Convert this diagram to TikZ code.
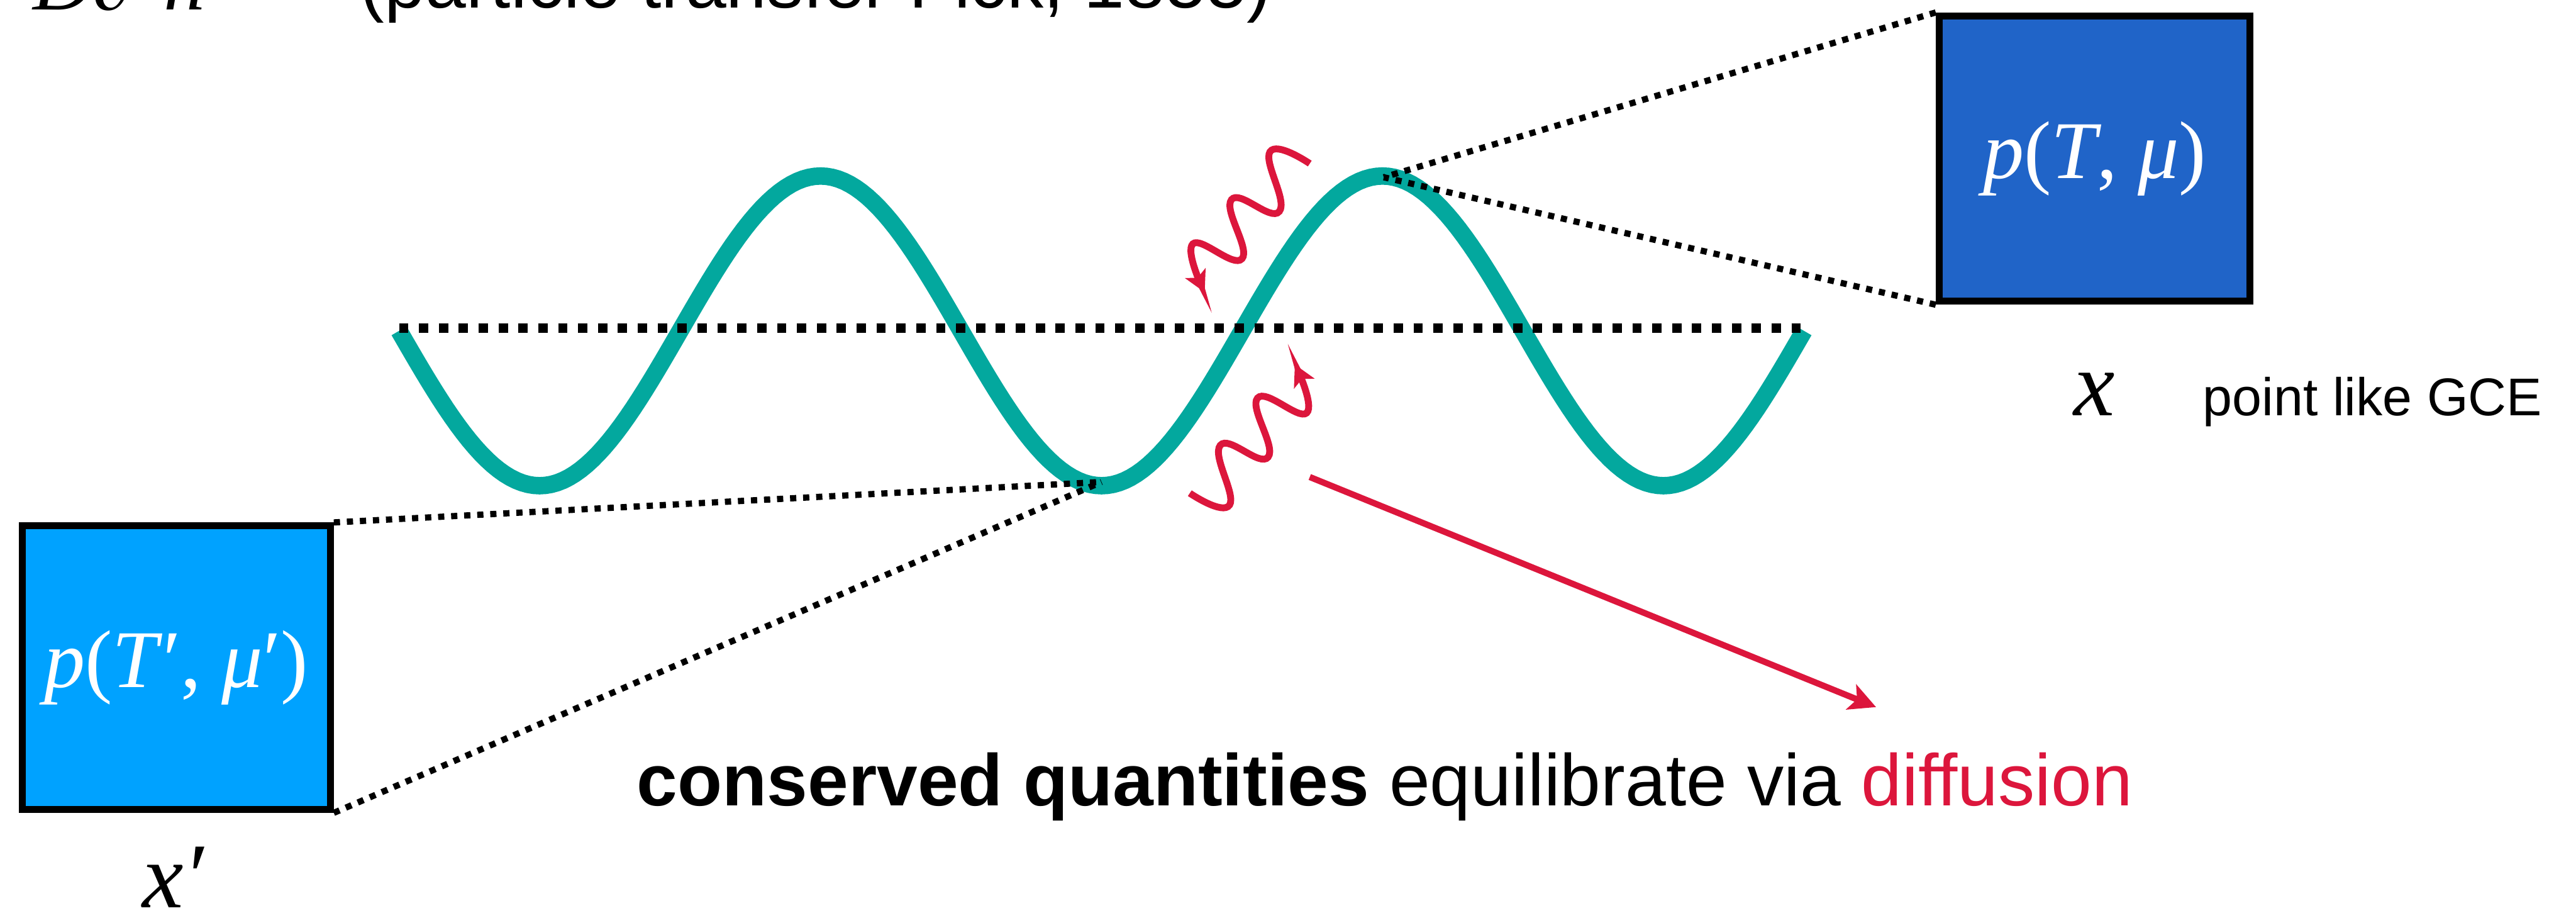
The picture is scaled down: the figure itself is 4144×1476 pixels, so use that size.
\documentclass[tikz,border=0pt]{standalone}
\usepackage{fontspec}
\setmainfont{Liberation Serif}
\setsansfont{Liberation Sans}
\usetikzlibrary{arrows.meta}
\definecolor{wavegreen}{RGB}{3,168,158}
\definecolor{cellblue}{RGB}{32,100,200}
\definecolor{celllight}{RGB}{0,162,255}
\definecolor{diffred}{RGB}{220,22,60}
\newcommand\cellfont{\fontsize{37.5}{42}\selectfont\rmfamily}
\newcommand\xlabfont{\fontsize{42.4}{46}\selectfont\rmfamily\itshape}
\newcommand\capfont{\fontsize{33.5}{38}\selectfont\sffamily}
\newcommand\gcefont{\fontsize{24.3}{28}\selectfont\sffamily}
\newcommand\eqfont{\fontsize{38}{42}\selectfont\rmfamily\itshape}
\tikzset{
  sinewave/.style={draw=wavegreen, line width=2.8mm},
  axisdots/.style={draw=black, line width=1.5mm, dash pattern=on 1.5mm off 1.7mm},
  zoomdots/.style={draw=black, line width=1mm, dash pattern=on 1mm off 1.1mm},
  cellbox/.style={draw=black, line width=1.1mm, text=white, inner sep=0pt, font=\cellfont},
  photon/.style={draw=diffred, line width=1.1mm, -{Stealth[length=3.4mm,width=3.6mm,inset=0.8mm]}},
  flowarrow/.style={draw=diffred, line width=1mm, -{Stealth[length=4.3mm,width=4.3mm,inset=1mm]}},
}
\begin{document}
\begin{tikzpicture}[x=0.1mm,y=-0.1mm]
\useasboundingbox (0,0) rectangle (4144,1476);

% top (cut-off) equation line
\node[anchor=base west, font=\eqfont, inner sep=0pt] (eq) at (52,16) {D∂\textsuperscript{\upshape 2}n};
\node[anchor=base west, font=\capfont, inner sep=0pt] (fick) at (579,13) {(particle transfer Fick, 1855)};

% sine wave
\draw[sinewave] plot[domain=0:900, samples=241] ({642+2.51111*\x},{532+249*sin(\x)});

% horizontal dotted axis
\coordinate (axL) at (642,528);
\coordinate (axR) at (2900,528);
\draw[axisdots] (axL) -- (axR);

% boxes
\node[cellbox, fill=cellblue, minimum width=50mm, minimum height=45.9mm] (boxR) at (3369.5,255) {\textit{p}(\textit{T}, \textit{μ})};
\node[cellbox, fill=celllight, minimum width=49.6mm, minimum height=45.6mm] (boxL) at (283.5,1073.5) {\textit{p}(\textit{T}′, \textit{μ}′)};

% zoom lines
\coordinate (peakR) at (2226,285);
\coordinate (troughL) at (1772,775);
\draw[zoomdots] (boxR.north west) -- (peakR);
\draw[zoomdots] (boxR.south west) -- (peakR);
\draw[zoomdots] (boxL.north east) -- (troughL);
\draw[zoomdots] (boxL.south east) -- (troughL);

% photon-like wavy arrows
\draw[photon] plot[smooth, tension=0.8] coordinates {(2107,263) (2043,244) (2058,340) (1981,321) (1998,416) (1919,392) (1938,470)};
\draw[photon] plot[smooth, tension=0.8] coordinates {(1914,793) (1978,812) (1963,716) (2040,735) (2023,640) (2102,664) (2083,586)};

% diffusion arrow
\coordinate (flowS) at (2107,767);
\coordinate (flowE) at (3018,1137);
\draw[flowarrow] (flowS) -- (flowE);

% labels
\node[anchor=base, font=\xlabfont, inner sep=0pt] (xR) at (3369,668) {x};
\node[anchor=base west, font=\gcefont, inner sep=0pt] (gce) at (3543,668) {point like GCE};
\node[anchor=base west, font=\xlabfont, inner sep=0pt] (xL) at (228,1459) {x′};
\node[anchor=base west, font=\capfont, inner sep=0pt] (cq) at (1024,1295) {\textbf{conserved quantities} equilibrate via \textcolor{diffred}{diffusion}};
\end{tikzpicture}
\end{document}
